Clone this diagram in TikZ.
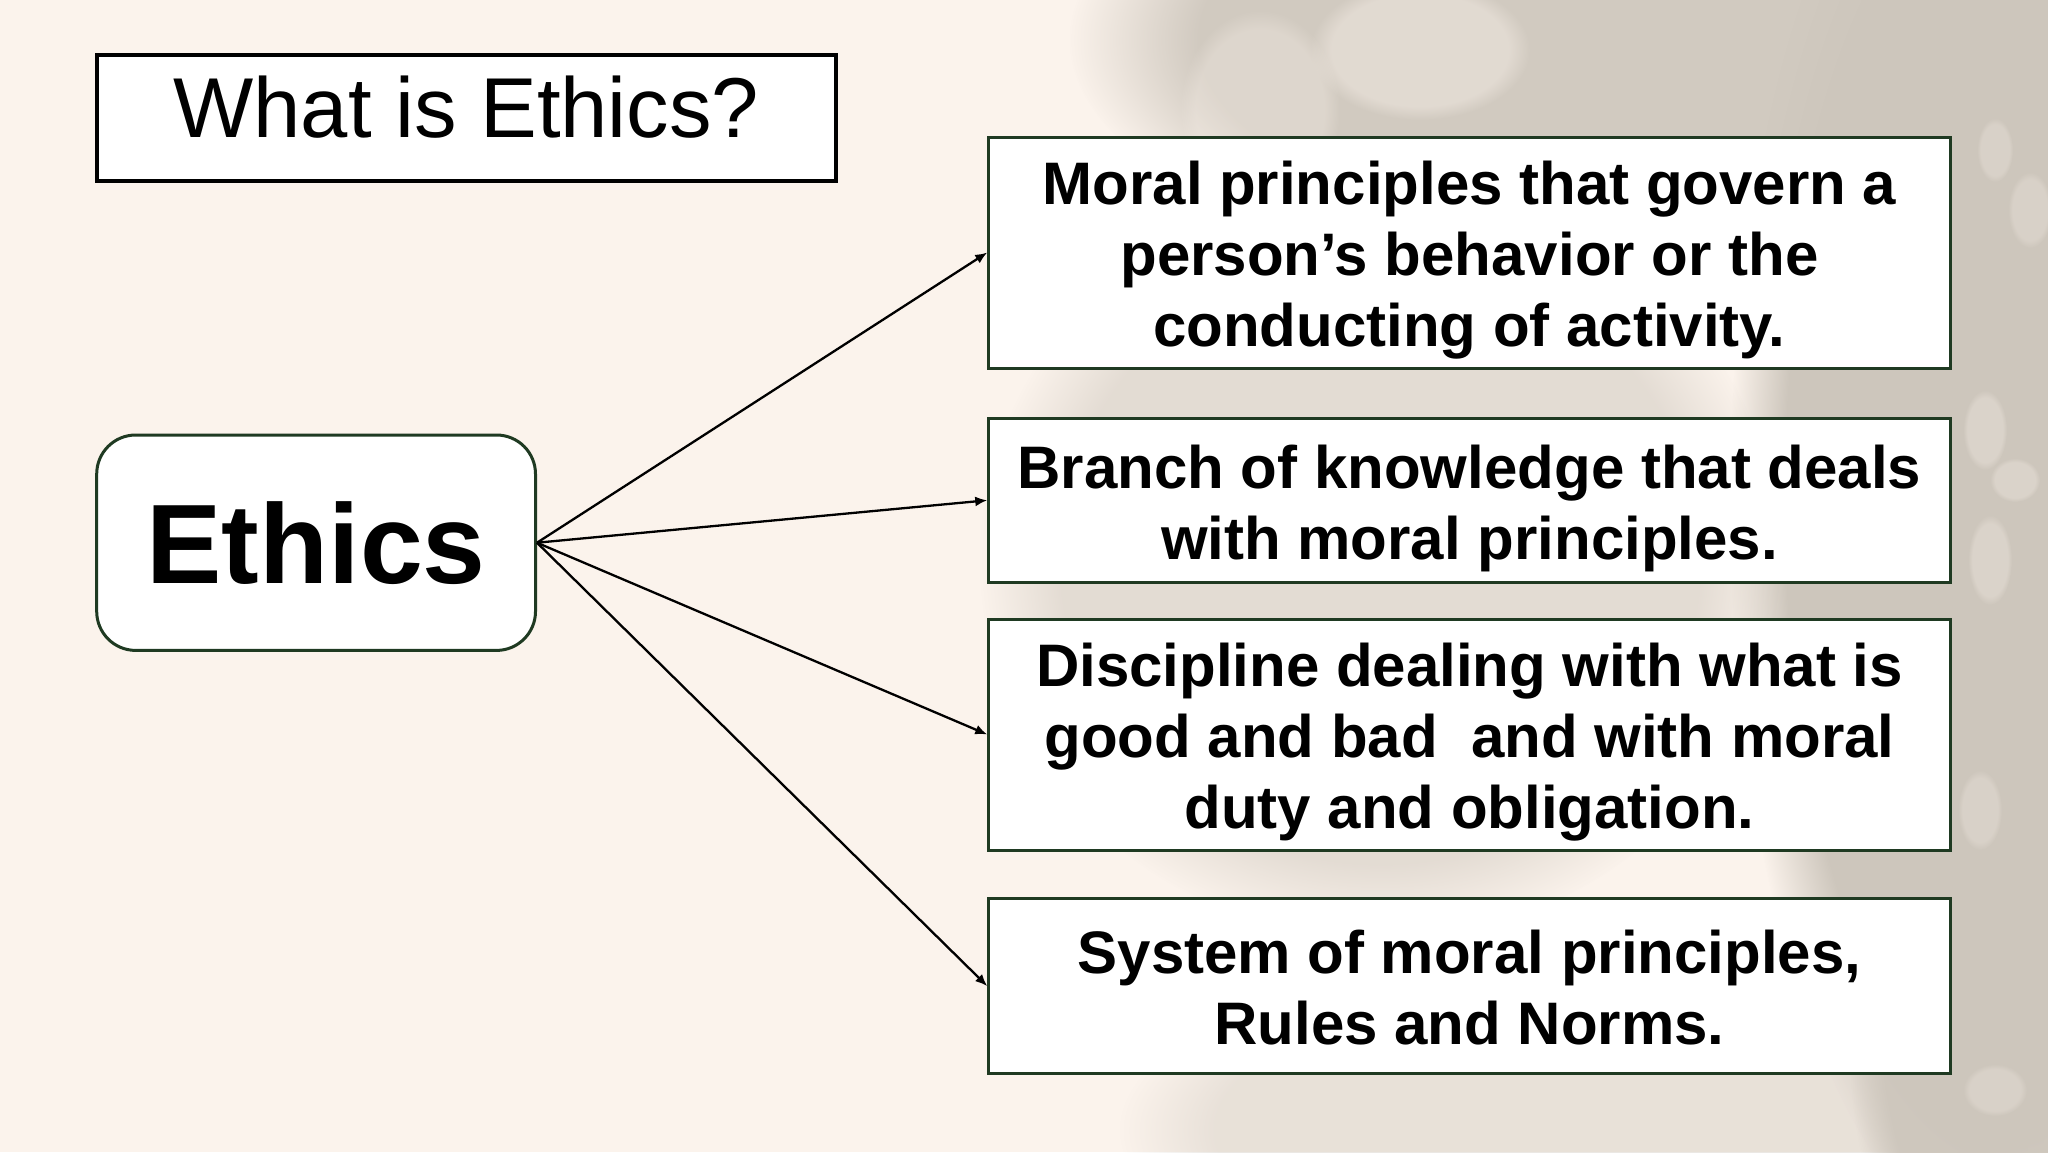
\documentclass[tikz,border=0pt]{standalone}
\usepackage{fontspec}
\setmainfont{Liberation Sans}
\usetikzlibrary{arrows.meta,fadings}
\definecolor{bgcream}{HTML}{FBF3EC}
\definecolor{shadegray}{HTML}{CDC6BC}
\definecolor{dkgreen}{HTML}{1F3A22}
\newcommand{\deftext}[1]{\raisebox{-4.5pt}[\height][\depth]{\begin{tabular}{@{}c@{}}#1\end{tabular}}}
\begin{document}
\begin{tikzpicture}[x=0.5pt,y=-0.5pt,
  defbox/.style={draw=dkgreen,line width=1.5pt,fill=white,minimum width=480.65pt,
    inner sep=0pt,font=\bfseries\fontsize{30}{35.5}\selectfont},
  arr/.style={-{Latex[length=6pt,width=5pt]},line width=1.15pt},
  blob/.style={fill=shadegray,path fading=circle with fuzzy edge 20 percent},
  light/.style={fill=bgcream,path fading=circle with fuzzy edge 20 percent}]
\fill[bgcream] (0,0) rectangle (2048,1152);
\useasboundingbox (0,0) rectangle (2048,1152);
% background shadow of foliage
\begin{scope}
\clip (0,0) rectangle (2048,1152);
\fill[blob,fill opacity=0.9] (1720,40) ellipse [x radius=650, y radius=260];
\fill[blob,fill opacity=1] (2010,500) ellipse [x radius=280, y radius=750];
\fill[blob,fill opacity=0.5] (1380,560) ellipse [x radius=400, y radius=380];
\fill[blob,fill opacity=0.4] (1600,1130) ellipse [x radius=480, y radius=180];
\fill[blob,fill opacity=0.9] (2030,1050) ellipse [x radius=180, y radius=300];
\fill[light,fill opacity=0.4] (1420,50) ellipse [x radius=110, y radius=70];
\fill[light,fill opacity=0.3] (1260,110) ellipse [x radius=80, y radius=100];
\fill[light,fill opacity=0.3] (1985,430) ellipse [x radius=22, y radius=40];
\fill[light,fill opacity=0.3] (2015,480) ellipse [x radius=25, y radius=22];
\fill[light,fill opacity=0.3] (1990,560) ellipse [x radius=22, y radius=45];
\fill[light,fill opacity=0.25] (2030,210) ellipse [x radius=22, y radius=38];
\fill[light,fill opacity=0.25] (1995,150) ellipse [x radius=18, y radius=32];
\fill[light,fill opacity=0.25] (1980,810) ellipse [x radius=22, y radius=40];
\fill[light,fill opacity=0.25] (1995,1090) ellipse [x radius=32, y radius=26];
\end{scope}
% title
\node[draw=black,line width=2pt,fill=white,minimum width=369.5pt,minimum height=63.25pt,
  inner sep=0pt,font=\fontsize{42.5}{50}\selectfont,text height=30.5pt,text depth=11pt]
  (title) at (466.3,118.2) {What is Ethics?};
% central node
\node[draw=dkgreen,line width=1.5pt,fill=white,rounded corners=19.5pt,minimum width=219.4pt,
  minimum height=107.7pt,inner sep=0pt,font=\bfseries\fontsize{56.5}{60}\selectfont]
  (ethics) at (316.1,542.7) {Ethics};
% definition boxes
\node[defbox,minimum height=115.5pt] (d1) at (1469.4,252.5)
  {\deftext{Moral principles that govern a\\person’s behavior or the\\conducting of activity.}};
\node[defbox,minimum height=82.25pt] (d2) at (1469.4,500.3)
  {\deftext{Branch of knowledge that deals\\with moral principles.}};
\node[defbox,minimum height=115.5pt] (d3) at (1469.4,734.5)
  {\deftext{Discipline dealing with what is\\good and bad~ and with moral\\duty and obligation.}};
\node[defbox,minimum height=87.5pt] (d4) at (1469.4,986.1)
  {\deftext{System of moral principles,\\Rules and Norms.}};
% connectors
\draw[arr] (ethics.east) -- (d1.west);
\draw[arr] (ethics.east) -- (d2.west);
\draw[arr] (ethics.east) -- (d3.west);
\draw[arr] (ethics.east) -- (d4.west);
\end{tikzpicture}
\end{document}
